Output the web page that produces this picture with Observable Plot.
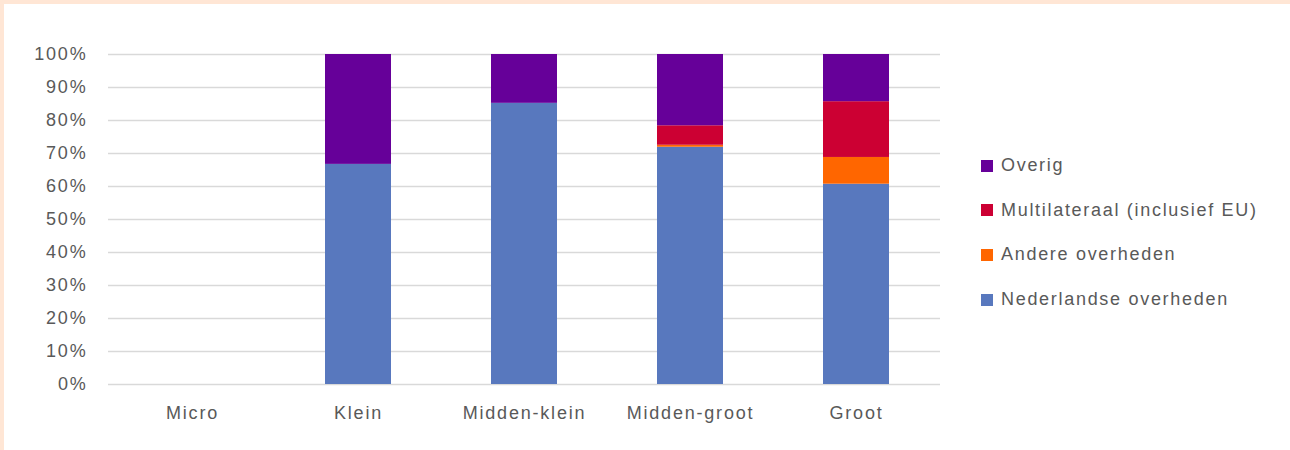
<!DOCTYPE html>
<html><head><meta charset="utf-8">
<script src="https://cdn.jsdelivr.net/npm/d3@7"></script>
<script src="https://cdn.jsdelivr.net/npm/@observablehq/plot@0.6"></script>
<style>
body{margin:0;background:#fff;}
#frame{position:relative;width:1286px;height:446px;border-top:4px solid #FFE6D5;border-left:4px solid #FFE6D5;background:#fff;overflow:hidden;font-family:"Liberation Sans",Arial,sans-serif;}
.item{position:absolute;left:977px;display:flex;align-items:center;font-size:18px;color:#595959;letter-spacing:1.7px;white-space:nowrap;}
.sw{width:12px;height:12px;margin-right:8px;}
</style></head>
<body><div id="frame"></div>
<script>
const categories = ["Micro", "Klein", "Midden-klein", "Midden-groot", "Groot"];
const series = ["Nederlandse overheden", "Andere overheden", "Multilateraal (inclusief EU)", "Overig"];
const colors = ["#5878BE", "#FF6600", "#CC0033", "#660099"];
const nederlandse = [0, 66.7, 85.2, 71.9, 60.7];
const andere = [0, 0, 0, 0.6, 8.1];
const multilateraal = [0, 0, 0, 5.9, 16.9];
const overig = [0, 33.3, 14.8, 21.6, 14.3];
const yTicks = [0, 10, 20, 30, 40, 50, 60, 70, 80, 90, 100];

const valueSets = [nederlandse, andere, multilateraal, overig];
const data = [];
series.forEach((s, si) => categories.forEach((c, ci) => {
  if (valueSets[si][ci] > 0) data.push({cat: c, series: s, value: valueSets[si][ci]});
}));

const chart = Plot.plot({
  width: 1286, height: 446,
  marginLeft: 104, marginRight: 350, marginTop: 50, marginBottom: 66,
  style: {fontSize: "18px", fontFamily: '"Liberation Sans", Arial, sans-serif', color: "#595959", letterSpacing: "1.8px", background: "transparent"},
  x: {domain: categories, paddingInner: 0.6, paddingOuter: 0.3, label: null},
  y: {domain: [0, 100], label: null},
  color: {domain: series, range: colors},
  marks: [
    Plot.ruleY(yTicks, {stroke: "#d9d9d9", strokeWidth: 1.3}),
    Plot.barY(data, {x: "cat", y: "value", fill: "series", order: series}),
    Plot.axisY({ticks: yTicks, tickSize: 0, tickPadding: 21, tickFormat: d => d + "%", label: null}),
    Plot.axisX({tickSize: 0, tickPadding: 22, label: null})
  ]
});
const frame = document.getElementById("frame");
frame.appendChild(chart);

const legendOrder = [3, 2, 1, 0];
legendOrder.forEach((si, i) => {
  const it = document.createElement("div");
  it.className = "item";
  it.style.top = (151 + i * 44.7) + "px";
  it.innerHTML = `<div class="sw" style="background:${colors[si]}"></div><span>${series[si]}</span>`;
  frame.appendChild(it);
});
</script>
</body></html>
